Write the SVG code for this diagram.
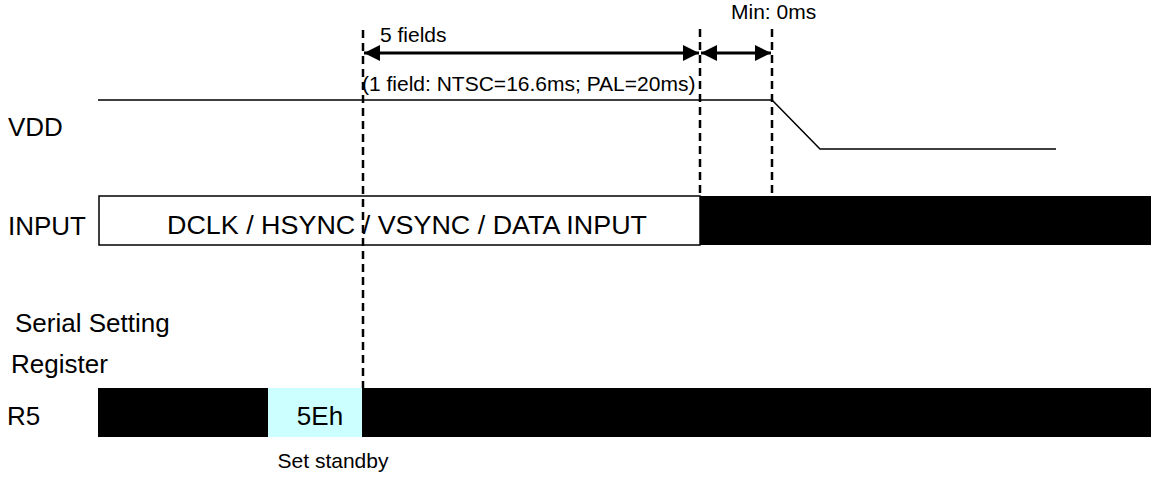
<svg xmlns="http://www.w3.org/2000/svg" width="1157" height="477" viewBox="0 0 1157 477">
<defs>
<style>
text{font-family:"Liberation Sans",Arial,sans-serif;fill:#000}
.lbl{font-size:26px}
.sm{font-size:21px}
.dash{stroke:#000;stroke-width:2.5;stroke-dasharray:8,5;fill:none}
.sig{stroke:#000;stroke-width:1.5;fill:none}
.arr{stroke:#000;stroke-width:3;fill:none;marker-start:url(#ah);marker-end:url(#ah)}
</style>
<marker id="ah" viewBox="0 0 16 16" refX="16" refY="8" markerWidth="16" markerHeight="16" markerUnits="userSpaceOnUse" orient="auto-start-reverse">
<path d="M0,0 L16,8 L0,16 Z" fill="#000"/>
</marker>
</defs>
<rect width="1157" height="477" fill="#fff"/>
<g id="labels">
<text class="lbl" x="8" y="136">VDD</text>
<text class="lbl" x="8" y="235">INPUT</text>
<text class="lbl" x="15" y="332">Serial Setting</text>
<text class="lbl" x="11" y="373">Register</text>
<text class="lbl" x="7" y="425">R5</text>
</g>
<g id="vdd">
<polyline class="sig" points="98,100 772,100 820,149 1056,149"/>
</g>
<g id="input">
<rect x="99" y="196" width="601" height="49" fill="#fff" stroke="#000" stroke-width="1.5"/>
<rect x="700" y="196" width="451" height="49" fill="#000"/>
<text class="lbl" x="407" y="234" text-anchor="middle" textLength="480" lengthAdjust="spacingAndGlyphs">DCLK / HSYNC / VSYNC / DATA INPUT</text>
</g>
<g id="r5">
<rect x="98" y="388" width="1053" height="49" fill="#000"/>
<rect x="268" y="388" width="94" height="49" fill="#ccffff"/>
<text class="lbl" x="320" y="425" text-anchor="middle">5Eh</text>
<text class="sm" x="333" y="468" text-anchor="middle">Set standby</text>
</g>
<g id="connectors">
<line class="dash" x1="363" y1="30" x2="363" y2="388"/>
<line class="dash" x1="700" y1="29" x2="700" y2="196"/>
<line class="dash" x1="772" y1="29" x2="772" y2="196"/>
<line class="arr" x1="364" y1="53" x2="699" y2="53"/>
<line class="arr" x1="701" y1="53" x2="771" y2="53"/>
</g>
<g id="annotations">
<text class="sm" x="380" y="42">5 fields</text>
<text class="sm" x="362" y="91">(1 field: NTSC=16.6ms; PAL=20ms)</text>
<text class="sm" x="731" y="19">Min: 0ms</text>
</g>
</svg>
